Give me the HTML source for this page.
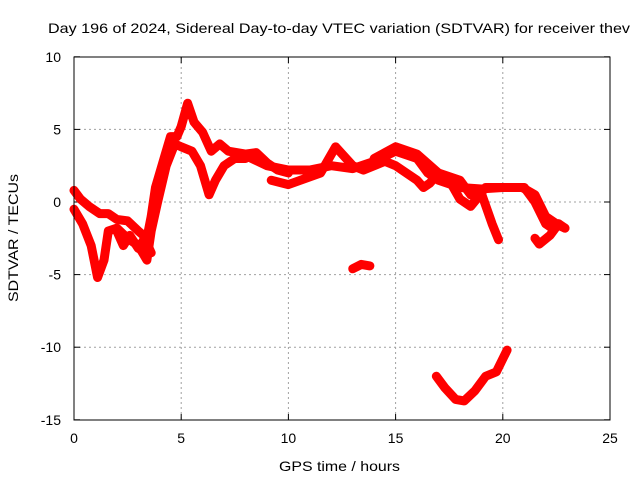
<!DOCTYPE html>
<html><head><meta charset="utf-8"><style>
body{margin:0;background:#fff;}
svg{display:block;font-family:"Liberation Sans",sans-serif;font-size:14px;}
</style></head><body>
<svg id="chart" width="640" height="480">
<text x="48" y="33" textLength="582" lengthAdjust="spacingAndGlyphs">Day 196 of 2024, Sidereal Day-to-day VTEC variation (SDTVAR) for receiver thev</text>
<text x="279" y="471" textLength="121" lengthAdjust="spacingAndGlyphs">GPS time / hours</text>
<text transform="translate(18,302) rotate(-90)" textLength="128" lengthAdjust="spacingAndGlyphs">SDTVAR / TECUs</text>
<g id="grid"></g><g id="ticks"></g><g id="marks"></g>
<rect x="74" y="57" width="536" height="363" fill="none" stroke="#000" stroke-width="1"/>
</svg>
<script>
const xTicks=[0,5,10,15,20,25];
const yTicks=[-15,-10,-5,0,5,10];
const sAh=[0,0.3,0.7,1.2,1.6,2,2.5,3,3.4,3.6,3.8,4.2,4.5,4.8,5,5.3,5.6,6,6.4,6.8,7.2,8,8.5,9,9.5,10];
const sAv=[0.8,0.2,-0.3,-0.8,-0.8,-1.2,-1.3,-2,-2.5,-1,1,3,4.5,4.5,5.2,6.8,5.5,4.8,3.5,4,3.5,3.3,3.4,2.7,2.2,2.0];
const sBh=[0,0.4,0.8,1.1,1.4,1.6,2,2.5,3,3.4,3.6,3.9,4.3,4.7,5,5.5,5.9,6.3,6.6,7,7.5,8];
const sBv=[-0.5,-1.5,-3,-5.2,-4,-2,-1.8,-2.5,-3,-4,-2,0,2.5,4,3.8,3.5,2.5,0.5,1.5,2.5,3,3];
const sCh=[8,9,10,11,12,13,14,15,16,16.5,17,18,19,20,20.9,21.5,22,22.6,22.9];
const sCv=[3.2,2.5,2.2,2.2,2.5,2.3,2.8,3.5,3,2,1.5,1,0.9,1,1,0.5,-1,-1.6,-1.8];
const sDh=[9.2,10,11.5,12.2,13,13.5,14.5,15,16,16.3,16.6,17,17.5,18,18.5,19,19.5,19.8];
const sDv=[1.5,1.2,2,3.8,2.5,2.2,2.8,2.5,1.5,1,1.3,2,1.5,0.2,-0.3,0.6,-1.5,-2.6];
const sEh=[14,15,16,17,18,18.5,18.8,19.2,20.5,21,21.5,22,22.3,22.6,22.9];
const sEv=[3,3.8,3.3,2,1.5,0.5,0.3,1,1,1,0,-1.5,-1.8,-1.5,-1.8];
const sFh=[21.5,21.7,22.2,22.6];
const sFv=[-2.5,-2.9,-2.3,-1.5];
const sGh=[13,13.4,13.8];
const sGv=[-4.6,-4.3,-4.4];
const sHh=[16.9,17.3,17.8,18.2,18.7,19.2,19.7,20.2];
const sHv=[-12,-12.8,-13.6,-13.7,-13,-12,-11.7,-10.2];
const sIh=[2,2.3,2.6,3,3.3,3.6];
const sIv=[-2,-3,-2.3,-3.2,-2.5,-3.5];
const NS='http://www.w3.org/2000/svg';
const X=h=>74+h*(536/25);
const Y=v=>202-v*(363/25);
const grid=document.getElementById('grid'),ticks=document.getElementById('ticks'),marks=document.getElementById('marks');
function mk(t,a,p){const e=document.createElementNS(NS,t);for(const k in a)e.setAttribute(k,a[k]);p.appendChild(e);return e;}
xTicks.forEach(t=>{
 if(t>0&&t<25){const g=mk('line',{x1:X(t),x2:X(t),y1:57,y2:420,stroke:'#a0a0a0','stroke-dasharray':'2,3'},grid);
 
 }
 const l=mk('text',{x:X(t),y:443,'text-anchor':'middle'},ticks);l.textContent=t;
 
 
 mk('line',{x1:X(t),x2:X(t),y1:420,y2:414,stroke:'#000'},ticks);
 mk('line',{x1:X(t),x2:X(t),y1:57,y2:63,stroke:'#000'},ticks);
});
yTicks.forEach(t=>{
 if(t>-15&&t<10){const g=mk('line',{x1:74,x2:610,y1:Y(t),y2:Y(t),stroke:'#a0a0a0','stroke-dasharray':'2,3'},grid);
 
 }
 const l=mk('text',{x:61,y:Y(t)+5,'text-anchor':'end'},ticks);l.textContent=t;
 
 
 mk('line',{x1:74,x2:80,y1:Y(t),y2:Y(t),stroke:'#000'},ticks);
 mk('line',{x1:610,x2:604,y1:Y(t),y2:Y(t),stroke:'#000'},ticks);
});
[[sAh,sAv],[sBh,sBv],[sCh,sCv],[sDh,sDv],[sEh,sEv],[sFh,sFv],[sGh,sGv],[sHh,sHv],[sIh,sIv]].forEach((s,i)=>{
 const pts=s[0].map((h,j)=>X(h)+','+Y(s[1][j])).join(' ');
 const p=mk('polyline',{points:pts,fill:'none',stroke:'#ff0000','stroke-width':9,'stroke-linejoin':'round','stroke-linecap':'round'},marks);
 
 
});
</script>
</body></html>
